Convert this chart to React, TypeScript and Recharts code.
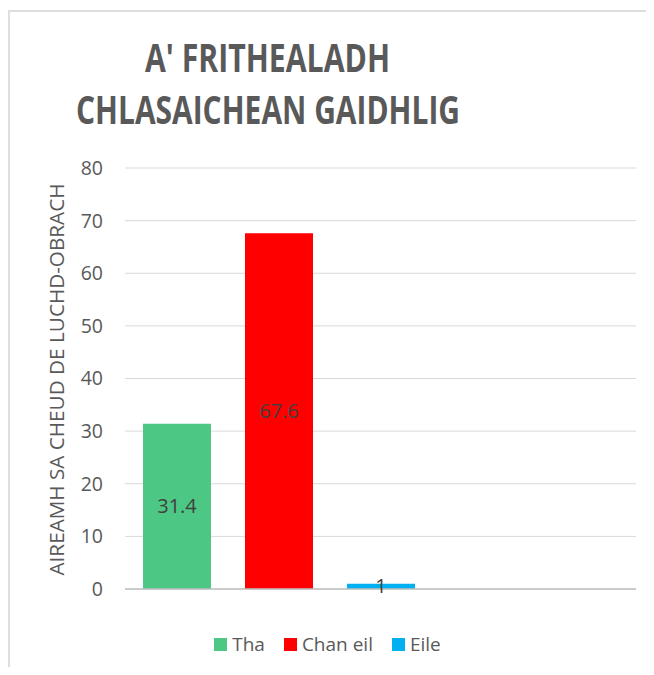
import React from 'react';
import { BarChart, Bar, XAxis, YAxis, CartesianGrid, LabelList } from 'recharts';

const titleLines = ["A' FRITHEALADH", 'CHLASAICHEAN GAIDHLIG'];
const yAxisTitle = 'AIREAMH SA CHEUD DE LUCHD-OBRACH';
const categories = [''];
const seriesNames = ['Tha', 'Chan eil', 'Eile'];
const seriesKeys = ['tha', 'chanEil', 'eile'];
const seriesColors = ['#4CC784', '#FF0000', '#00B0F0'];
const thaValues = [31.4];
const chanEilValues = [67.6];
const eileValues = [1];
const yTicks = [0, 10, 20, 30, 40, 50, 60, 70, 80];

const data = categories.map((c, i) => ({
  name: c,
  tha: thaValues[i],
  chanEil: chanEilValues[i],
  eile: eileValues[i],
}));

const FONT = '"Open Sans", sans-serif';
const TEXT = '#595959';

const W = 644;
const H = 663;

const YLabel = (props: any) => {
  const vb = props.viewBox || {};
  const cx = 54;
  const cy = (vb.y ?? 156) + (vb.height ?? 421) / 2 + 1;
  return (
    <text
      x={cx}
      y={cy}
      transform={`rotate(-90, ${cx}, ${cy})`}
      textAnchor="middle"
      fontFamily={FONT}
      fontSize={20.5}
      fill={TEXT}
      textLength={392}
      lengthAdjust="spacingAndGlyphs"
    >
      {yAxisTitle}
    </text>
  );
};

export default function App() {
  return (
    <div style={{ paddingTop: 2, marginBottom: -8 }}>
      <div
        style={{
          position: 'relative',
          width: W,
          height: H,
          borderTop: '2px solid #dedede',
          borderLeft: '2px solid #dedede',
        }}
      >
        <BarChart
          width={W}
          height={H}
          data={data}
          margin={{ top: 156, right: 18, bottom: 85, left: 0 }}
          barSize={68}
          barGap={34}
        >
          <CartesianGrid vertical={false} stroke="#d9d9d9" strokeWidth={1} />
          <XAxis
            dataKey="name"
            height={1}
            tick={false}
            tickLine={false}
            axisLine={{ stroke: '#bfbfbf', strokeWidth: 1.5 }}
            padding={{ left: 0, right: 203 }}
          />
          <YAxis
            width={115}
            domain={[0, 80]}
            ticks={yTicks}
            interval={0}
            axisLine={false}
            tickLine={false}
            tickSize={0}
            tickMargin={22}
            tick={{ fontFamily: FONT, fontSize: 19.5, fill: TEXT }}
            label={{ content: (p: any) => <YLabel {...p} /> }}
          />
          {seriesKeys.map((k, i) => (
            <Bar key={k} dataKey={k} name={seriesNames[i]} fill={seriesColors[i]} isAnimationActive={false}>
              <LabelList
                dataKey={k}
                position="center"
                fill="#404040"
                fontFamily={FONT}
                fontSize={20}
              />
            </Bar>
          ))}
        </BarChart>
        <svg
          width={W}
          height={140}
          style={{ position: 'absolute', left: 0, top: 0, pointerEvents: 'none' }}
        >
          <text
            x={135}
            y={60}
            fontFamily={FONT}
            fontWeight={700}
            fontSize={39}
            fill={TEXT}
            textLength={245}
            lengthAdjust="spacingAndGlyphs"
          >
            {titleLines[0]}
          </text>
          <text
            x={66}
            y={111.5}
            fontFamily={FONT}
            fontWeight={700}
            fontSize={39}
            fill={TEXT}
            textLength={384}
            lengthAdjust="spacingAndGlyphs"
          >
            {titleLines[1]}
          </text>
        </svg>
        <div
          style={{
            position: 'absolute',
            left: 0,
            width: 635,
            top: 632 - 13,
            height: 26,
            display: 'flex',
            justifyContent: 'center',
            alignItems: 'center',
            fontFamily: FONT,
            fontSize: 19,
            color: TEXT,
            lineHeight: '26px',
          }}
        >
          {seriesNames.map((n, i) => (
            <div key={n} style={{ display: 'flex', alignItems: 'center', marginRight: i < seriesNames.length - 1 ? 19 : 0 }}>
              <span style={{ display: 'inline-block', width: 13, height: 13, background: seriesColors[i], marginRight: 5 }} />
              <span>{n}</span>
            </div>
          ))}
        </div>
      </div>
    </div>
  );
}
